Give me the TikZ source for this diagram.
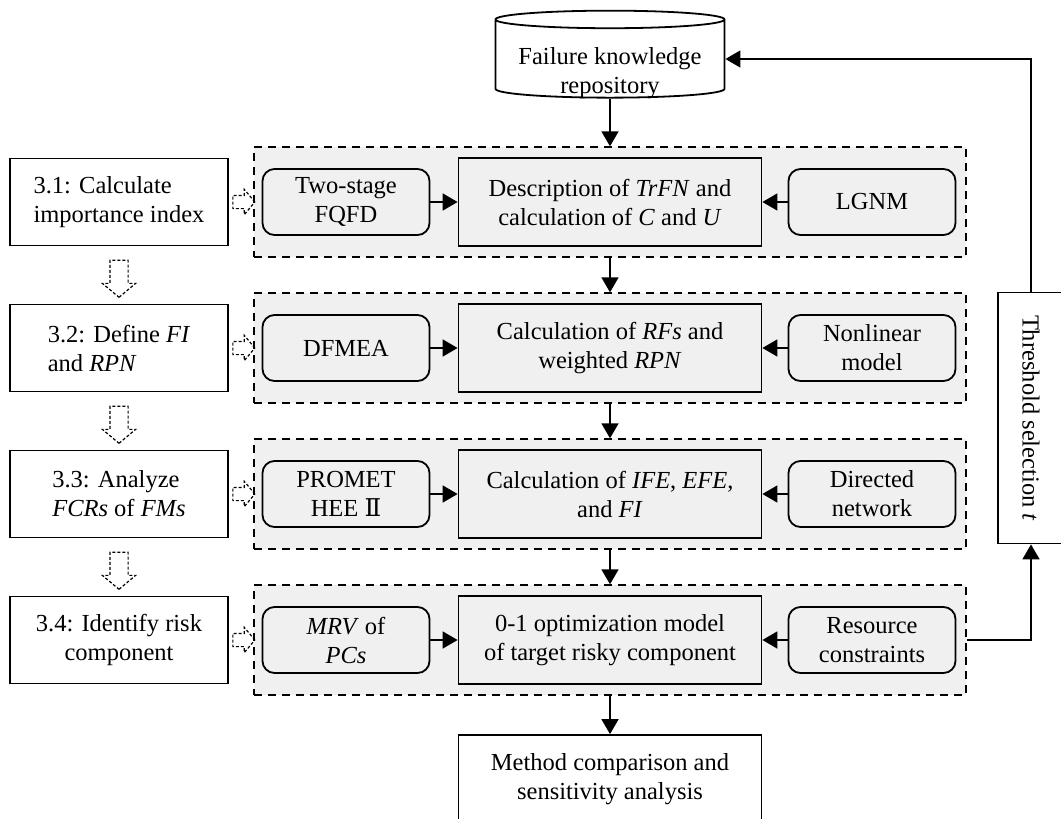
\documentclass[tikz,border=0pt]{standalone}
\usepackage{fontspec}
\setmainfont{Liberation Serif}
\newfontfamily\numfont{DejaVu Serif}
\usetikzlibrary{arrows.meta, shapes.geometric, shapes.arrows, calc}

\begin{document}
\begin{tikzpicture}[
    x = 0.5pt, y = -0.5pt,
    line width = 0.9pt,
    > = {Triangle[length = 7.5pt, width = 8.5pt]},
    font = \fontsize{12.25}{14.5}\selectfont,
    box/.style = {draw, align = center, inner sep = 2pt},
    stage/.style = {box, fill = white,
      minimum width = 109pt, minimum height = 43.5pt},
    panel/.style = {draw, line width = 0.7pt,
      dash pattern = on 4pt off 3pt,
      fill = black!6,
      minimum width = 356pt, minimum height = 55pt},
    core/.style = {box, fill = black!6,
      minimum width = 151.5pt, minimum height = 44pt},
    method/.style = {box, fill = black!6,
      rounded corners = 6pt,
      minimum width = 83.5pt, minimum height = 33pt},
    result/.style = {box, fill = white},
    store/.style = {draw, cylinder, shape border rotate = 90,
      aspect = 0.096, inner sep = 0pt, fill = white,
      minimum width = 114.5pt, minimum height = 43.5pt},
    hollowright/.style = {draw, single arrow,
      line width = 0.6pt, dash pattern = on 1.5pt off 1pt,
      inner xsep = 0pt, inner ysep = 3pt,
      single arrow head extend = 3pt,
      single arrow tip angle = 100,
      minimum height = 11pt},
    hollowdown/.style = {hollowright, rotate = -90,
      inner ysep = 4.25pt,
      single arrow head extend = 3.75pt,
      minimum height = 18.5pt},
    ]

    \useasboundingbox (0, 0) rectangle (1061, 819);

    % dashed panels
    \node at (610, 202) [panel, name = p1] {};
    \node at (610, 348) [panel, name = p2] {};
    \node at (610, 494) [panel, name = p3] {};
    \node at (610, 640) [panel, name = p4] {};

    \node at (610, 59) [store, name = repo]
    {\raisebox{-10pt}[6pt][6pt]{%
        \begin{tabular}{@{}c@{}}Failure knowledge\\repository\end{tabular}}};

    % steps on the left
    \node at (119, 202) [stage, align = left, name = s31]
    {3.1: Calculate\\importance index};
    \node at (119, 348) [stage, align = left, name = s32]
    {3.2: Define \textit{FI}\\and \textit{RPN}};
    \node at (119, 494) [stage, align = left, name = s33]
    {3.3: Analyze\\\textit{FCRs} of \textit{FMs}};
    \node at (119, 640) [stage, name = s34]
    {3.4: Identify risk\\component};

    % row 1
    \node at (346, 202) [method, name = fqfd] {Two-stage\\FQFD};
    \node at (610, 202) [core, name = trfn]
    {Description of \textit{TrFN} and\\calculation of \textit{C} and \textit{U}};
    \node at (872, 202) [method, name = lgnm] {LGNM};

    % row 2
    \node at (346, 348) [method, name = dfmea] {DFMEA};
    \node at (610, 348) [core, name = rpn]
    {Calculation of \textit{RFs} and\\weighted \textit{RPN}};
    \node at (872, 348) [method, name = nonlin] {Nonlinear\\model};

    % row 3
    \node at (346, 494) [method, name = prom] {PROMET\\HEE {\numfont Ⅱ}};
    \node at (610, 494) [core, name = fi]
    {Calculation of \textit{IFE}, \textit{EFE},\\and \textit{FI}};
    \node at (872, 494) [method, name = net] {Directed\\network};

    % row 4
    \node at (346, 640) [method, name = mrv] {\textit{MRV} of\\\textit{PCs}};
    \node at (610, 640) [core, name = optim]
    {0-1 optimization model\\of target risky component};
    \node at (872, 640) [method, name = res] {Resource\\constraints};

    \node at (610, 779) [result,
      minimum width = 151.5pt, minimum height = 44pt, name = compare]
    {Method comparison and\\sensitivity analysis};

    \node at (1031, 418) [result, rotate = -90,
      minimum width = 125.5pt, minimum height = 33pt, name = thresh]
    {Threshold selection \textit{t}};

    \draw [->] (fqfd) to (trfn);
    \draw [->] (lgnm) to (trfn);
    \draw [->] (dfmea) to (rpn);
    \draw [->] (nonlin) to (rpn);
    \draw [->] (prom) to (fi);
    \draw [->] (net) to (fi);
    \draw [->] (mrv) to (optim);
    \draw [->] (res) to (optim);

    \draw [->] (repo) to (p1);
    \draw [->] (p1) to (p2);
    \draw [->] (p2) to (p3);
    \draw [->] (p3) to (p4);
    \draw [->] (p4) to (compare);

    \draw [->] (p4.east) -| (thresh.east);
    \draw [->] (thresh.west) |- (repo.east);

    % hollow arrows
    \node at ($(s31.east)!0.5!(p1.west)$) [hollowright, name = h1] {};
    \node at ($(s32.east)!0.5!(p2.west)$) [hollowright, name = h2] {};
    \node at ($(s33.east)!0.5!(p3.west)$) [hollowright, name = h3] {};
    \node at ($(s34.east)!0.5!(p4.west)$) [hollowright, name = h4] {};

    \node at ($(s31.south)!0.5!(s32.north)$) [hollowdown, name = d1] {};
    \node at ($(s32.south)!0.5!(s33.north)$) [hollowdown, name = d2] {};
    \node at ($(s33.south)!0.5!(s34.north)$) [hollowdown, name = d3] {};

  \end{tikzpicture}
\end{document}
